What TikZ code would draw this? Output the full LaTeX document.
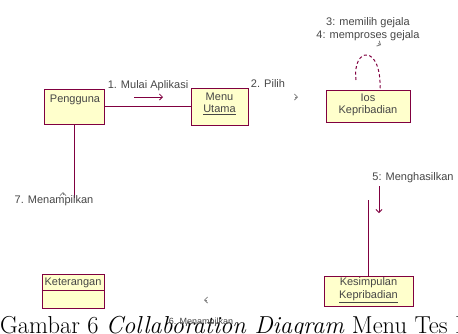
\documentclass[tikz,border=0pt]{standalone}
\usepackage{fontspec}
\newfontfamily\diagfont{Liberation Sans}
\usetikzlibrary{arrows.meta}
\definecolor{roseline}{RGB}{128,0,64}
\definecolor{rosefill}{RGB}{255,255,204}
\definecolor{fadetext}{RGB}{70,70,70}
\begin{document}
\begin{tikzpicture}[x=1pt, y=-1pt,
  obj/.style={draw=roseline, fill=rosefill, line width=0.8pt, inner sep=0pt},
  lbl/.style={font=\diagfont\fontsize{11}{12.5}\selectfont, inner sep=0pt, align=center, text=fadetext},
  link/.style={draw=roseline, line width=1pt},
  msg/.style={draw=roseline, line width=0.8pt, -{Straight Barb[length=3pt,width=6pt]}}]
\useasboundingbox (0,0) rectangle (458,333);
\clip (0,0) rectangle (458,333);
% objects
\node[obj, minimum width=60pt, minimum height=35pt] (pengguna) at (74,106.5){};
\node[lbl] (penggunaName) at (75,100){Pengguna};
\node[obj, minimum width=57pt, minimum height=37pt] (menu) at (219.5,106.5){};
\node[lbl] (menuName) at (219.5,104){Menu\\\underline{Utama}};
\node[obj, minimum width=84pt, minimum height=32pt] (ios) at (368,106){};
\node[lbl] (iosName) at (368,105){Ios\\Kepribadian};
\node[obj, minimum width=89pt, minimum height=30pt] (kesimpulan) at (368.5,291){};
\node[lbl] (kesimpulanName) at (368.5,290){Kesimpulan\\\underline{Kepribadian}};
\node[obj, minimum width=62pt, minimum height=34pt] (keterangan) at (73,291){};
\node[lbl] (keteranganName) at (73,282.5){Keterangan};
\draw[roseline, line width=0.8pt] (keterangan.west |- 0,290) -- (keterangan.east |- 0,290);
% links
\draw[link] (pengguna) -- (menu);
\coordinate (penggunaEnd) at (74,198);
\draw[link] (pengguna) -- (penggunaEnd);
\coordinate (hasilTop) at (368.5,200);
\draw[link] (hasilTop) -- (kesimpulan);
\coordinate (loopStart) at (356,80);
\coordinate (loopEnd) at (380,90);
\draw[link, dashed, dash pattern=on 3pt off 2.5pt] (loopStart) .. controls (352,46) and (382,44) .. (loopEnd);
% messages
\node[lbl] (mulai) at (148,86){1. Mulai Aplikasi};
\coordinate (mulaiA) at (134,97);
\coordinate (mulaiB) at (163,97);
\draw[msg] (mulaiA) -- (mulaiB);
\node[lbl] (pilih) at (268,84){2. Pilih};
\coordinate (pilihA) at (295,97);
\coordinate (pilihB) at (298,97);
\draw[msg, draw=gray] (pilihA) -- (pilihB);
\node[lbl] (gejala) at (368,29){3: memilih gejala\\4: memproses gejala};
\coordinate (gejalaA) at (378,43.5);
\coordinate (gejalaB) at (381,45);
\draw[msg, draw=gray] (gejalaA) -- (gejalaB);
\node[lbl] (hasil) at (413,178){5: Menghasilkan};
\coordinate (hasilA) at (379,186);
\coordinate (hasilB) at (379,213);
\draw[msg] (hasilA) -- (hasilB);
\node[lbl] (tampil7) at (54,201){7. Menampilkan};
\coordinate (tampil7A) at (63,195);
\coordinate (tampil7B) at (63,192);
\draw[msg, draw=gray] (tampil7A) -- (tampil7B);
\coordinate (tampil6A) at (207,300);
\coordinate (tampil6B) at (204,300);
\draw[msg, draw=gray] (tampil6A) -- (tampil6B);
% caption
\node[anchor=base west, inner sep=0pt, font=\fontsize{24.5}{27}\selectfont] (caption) at (0,333){Gambar 6 \textit{Collaboration Diagram} Menu Tes Kepribadian};
\node[lbl, font=\diagfont\fontsize{9}{10}\selectfont] (tampil6) at (201,322){6. Menampilkan};
\end{tikzpicture}
\end{document}
